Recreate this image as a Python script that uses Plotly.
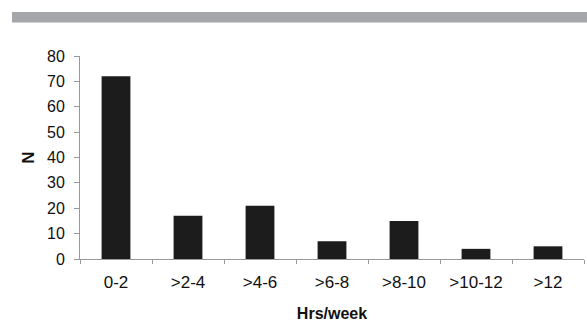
import plotly.graph_objects as go

categories = ["0-2", ">2-4", ">4-6", ">6-8", ">8-10", ">10-12", ">12"]
counts = [72, 17, 21, 7, 15, 4, 5]
y_ticks = [0, 10, 20, 30, 40, 50, 60, 70, 80]

W, H = 587, 323
ml, mr, mt, mb = 80, 3, 56, 64
pw = W - ml - mr
ph = H - mt - mb

fig = go.Figure(go.Bar(
    x=categories, y=counts, width=0.4,
    marker=dict(color="#1c1c1c", line=dict(width=0)),
))

fig.update_layout(
    width=W, height=H,
    margin=dict(l=ml, r=mr, t=mt, b=mb),
    paper_bgcolor="white", plot_bgcolor="white",
    font=dict(family="Liberation Sans, Arial, sans-serif", color="#111111"),
    showlegend=False,
    xaxis=dict(
        type="category", range=[-0.5, 6.5],
        tickson="boundaries", ticks="outside", ticklen=4, tickcolor="#999999",
        showline=True, linecolor="#999999", linewidth=1,
        showgrid=False, tickfont=dict(size=17), ticklabelstandoff=8,
        title=dict(text="<b>Hrs/week</b>", font=dict(size=16), standoff=16),
    ),
    yaxis=dict(
        range=[0, 80], tickvals=y_ticks, ticks="outside", ticklen=5,
        tickcolor="#999999", showline=True, linecolor="#999999", linewidth=1,
        showgrid=False, zeroline=False, tickfont=dict(size=16),
        ticklabelstandoff=6,
        title=dict(text="<b>N</b>", font=dict(size=17), standoff=8),
    ),
    shapes=[dict(
        type="rect", xref="paper", yref="paper",
        x0=(12 - ml) / pw, x1=(W - ml) / pw,
        y0=(H - mb - 22.5) / ph, y1=(H - mb - 12) / ph,
        fillcolor="#a6a7aa", line=dict(width=0), layer="above",
    )],
)

fig.write_html("out.html", config={"displayModeBar": False},
               post_script="document.body.style.margin='0';")
